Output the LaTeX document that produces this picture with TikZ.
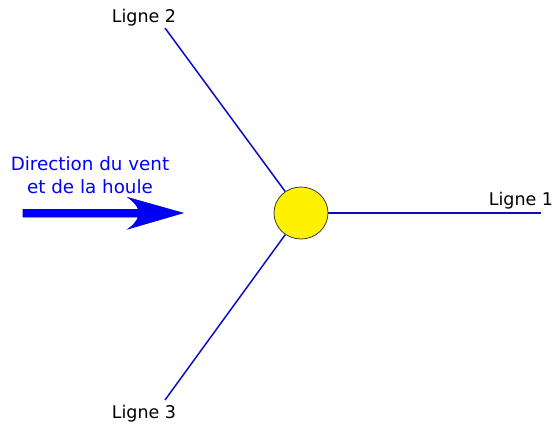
\documentclass[tikz,border=0pt]{standalone}
\usepackage{fontspec}
\setmainfont{DejaVu Sans}
\usetikzlibrary{shapes.geometric}
\begin{document}
\begin{tikzpicture}[x=1pt,y=-1pt,
  lbl/.style={font=\fontsize{17.5}{22}\selectfont, inner sep=0pt},
  ligne/.style={draw={rgb,255:red,10;green,10;blue,200}, line width=1.5pt},
  arr/.style={fill={rgb,255:red,0;green,0;blue,245}, draw={rgb,255:red,0;green,0;blue,210}, line width=0.6pt}]
\useasboundingbox (0,0) rectangle (555,426);
\fill[white] (0,0) rectangle (555,426);
\coordinate (e1) at (541,213);
\coordinate (e2) at (165,28);
\coordinate (e3) at (165,400);
\node[ellipse, minimum width=54pt, minimum height=52pt, inner sep=0pt] (c) at (301,213) {};
\draw[ligne] (c) -- (e1);
\draw[ligne] (c) -- (e2);
\draw[ligne] (c) -- (e3);
\draw[fill=yellow, draw={rgb,255:red,60;green,60;blue,60}, line width=0.8pt] (c.center) ellipse [x radius=27, y radius=26];
\node[lbl] (l1) at (521,201) {Ligne 1};
\node[lbl] (l2) at (144,18) {Ligne 2};
\node[lbl] (l3) at (144,414) {Ligne 3};
\node[lbl, font=\fontsize{18.3}{23}\selectfont, text={rgb,255:red,0;green,0;blue,255}, align=center] (d) at (90,175) {Direction du vent\\et de la houle};
\filldraw[arr] (23,209.5) -- (138.5,209.5) .. controls (136,204) and (133,201) .. (128,197.5) -- (183,213)
  -- (128,229) .. controls (133,225.5) and (136,222) .. (138.5,217) -- (23,217) -- cycle;
\end{tikzpicture}
\end{document}
